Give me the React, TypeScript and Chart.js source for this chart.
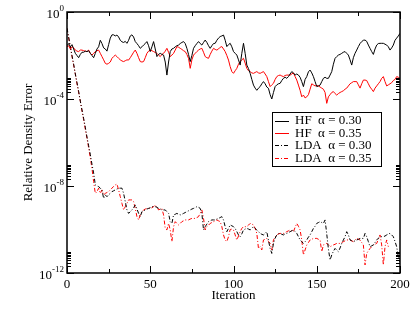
import React, { useEffect, useRef } from 'react';
import { Chart, registerables } from 'chart.js';

Chart.register(...registerables);

const FONT = "'Liberation Serif', 'Times New Roman', serif";

// log10 of relative density error, one value per iteration (0..200)
const hf030 = [
  -1.55,-1.45,-1.6,-1.5,-1.7,-1.9,-2.0,-2.1,-1.95,-1.85,
  -1.85,-1.8,-1.82,-1.78,-1.9,-2.0,-2.1,-1.9,-1.7,-1.6,
  -1.3,-1.45,-1.65,-1.7,-1.8,-1.5,-1.2,-1.05,-1.05,-1.1,
  -1.06,-1.15,-1.3,-1.37,-1.4,-1.35,-1.44,-1.3,-1.1,-1.05,
  -1.15,-1.36,-1.45,-1.55,-1.67,-1.6,-1.52,-1.45,-1.36,-1.55,
  -1.82,-1.6,-1.36,-1.7,-2.05,-1.95,-1.9,-1.95,-1.98,-2.3,
  -2.9,-2.3,-1.82,-1.7,-1.67,-1.6,-1.55,-1.52,-1.45,-1.4,
  -1.36,-1.45,-1.67,-1.95,-2.28,-2.0,-1.67,-1.55,-1.45,-1.36,
  -1.45,-1.52,-1.4,-1.29,-1.4,-1.55,-1.67,-1.55,-1.45,-1.44,
  -1.3,-1.2,-1.13,-1.1,-1.06,-1.3,-1.59,-1.5,-1.44,-1.6,
  -1.82,-1.9,-1.98,-2.2,-2.44,-1.9,-1.44,-1.9,-2.44,-2.6,
  -2.82,-3.1,-3.36,-3.5,-3.6,-3.5,-3.43,-3.3,-3.2,-3.3,
  -3.45,-3.51,-3.8,-4.0,-3.7,-3.43,-3.35,-3.3,-3.28,-3.15,
  -3.05,-3.0,-3.05,-2.97,-2.85,-2.74,-2.8,-2.9,-2.85,-2.9,
  -3.0,-3.2,-3.43,-3.1,-2.97,-2.75,-2.67,-2.8,-2.97,-3.2,
  -3.43,-3.4,-3.36,-3.2,-3.05,-3.0,-3.05,-3.05,-2.9,-2.74,
  -2.4,-2.13,-2.05,-1.98,-1.95,-1.9,-1.85,-1.82,-1.9,-1.98,
  -2.2,-2.44,-2.1,-1.9,-1.75,-1.59,-1.45,-1.36,-1.3,-1.29,
  -1.35,-1.52,-1.67,-1.82,-1.95,-1.7,-1.52,-1.45,-1.44,-1.44,
  -1.44,-1.48,-1.52,-1.6,-1.75,-1.65,-1.52,-1.3,-1.2,-1.1,
  -0.98,
];

const hf035 = [
  -1.6,-1.55,-1.7,-1.59,-1.65,-1.75,-1.8,-1.82,-1.75,-1.75,
  -1.78,-1.8,-1.82,-1.75,-1.9,-1.98,-1.9,-1.82,-1.78,-1.75,
  -1.9,-2.05,-2.2,-2.36,-2.4,-2.36,-2.3,-2.13,-2.05,-1.98,
  -2.05,-2.13,-2.2,-2.25,-2.28,-2.24,-2.2,-2.21,-2.1,-1.98,
  -1.85,-1.75,-1.9,-2.1,-2.28,-2.3,-2.28,-2.1,-1.9,-1.8,
  -1.75,-1.78,-1.82,-1.86,-1.9,-1.98,-2.05,-1.95,-1.9,-1.8,
  -1.67,-1.85,-2.05,-1.98,-1.9,-1.75,-1.59,-1.62,-1.67,-1.72,
  -1.78,-1.82,-1.95,-2.13,-2.59,-2.2,-1.98,-1.9,-1.82,-1.75,
  -1.7,-1.67,-1.85,-2.05,-2.1,-2.13,-1.95,-1.8,-1.67,-1.72,
  -1.75,-1.7,-1.62,-1.59,-1.7,-1.82,-2.0,-2.21,-2.51,-2.74,
  -2.82,-2.7,-2.59,-2.4,-2.28,-2.2,-2.13,-2.35,-2.59,-2.7,
  -2.74,-2.8,-2.82,-2.78,-2.74,-2.8,-2.82,-2.78,-2.74,-2.85,
  -2.97,-3.2,-3.43,-3.35,-3.28,-3.1,-2.97,-2.92,-2.9,-2.94,
  -2.97,-2.92,-2.9,-2.9,-2.9,-2.85,-2.8,-2.97,-3.13,-3.36,
  -3.6,-3.9,-3.82,-3.95,-3.9,-3.8,-3.55,-3.3,-3.35,-3.4,
  -3.38,-3.4,-3.45,-3.5,-3.55,-3.7,-4.2,-3.9,-3.8,-3.7,
  -3.66,-3.75,-3.82,-3.75,-3.7,-3.66,-3.62,-3.55,-3.5,-3.4,
  -3.3,-3.25,-3.2,-3.2,-3.2,-3.35,-3.5,-3.3,-3.13,-3.13,
  -3.15,-3.3,-3.45,-3.55,-3.66,-3.5,-3.4,-3.3,-3.2,-3.05,
  -2.97,-3.2,-3.4,-3.35,-3.3,-3.25,-3.15,-3.1,-2.97,-3.0,
  -3.05,
];

const lda030 = [
  -0.75,-1.15,-1.6,-2.0,-2.4,-2.85,-3.25,-3.65,-4.1,-4.5,
  -4.9,-5.3,-5.75,-6.15,-6.55,-7.0,-7.4,-7.95,-8.0,-8.03,
  -8.1,-8.18,-8.57,-8.41,-8.49,-8.4,-8.34,-8.26,-8.22,-8.18,
  -8.14,-8.1,-8.1,-8.1,-8.34,-8.72,-9.1,-9.26,-9.18,-9.1,
  -9.0,-8.87,-9.05,-9.26,-9.41,-9.18,-9.14,-9.1,-9.06,-9.03,
  -9.0,-8.95,-8.95,-8.95,-8.98,-9.03,-9.06,-9.1,-9.1,-9.1,
  -9.18,-9.26,-9.64,-9.72,-9.33,-9.3,-9.26,-9.3,-9.33,-9.3,
  -9.26,-9.22,-9.18,-9.14,-9.1,-9.06,-9.03,-9.0,-8.95,-8.98,
  -9.03,-9.26,-10.02,-9.87,-9.75,-9.64,-9.6,-9.56,-9.56,-9.56,
  -9.52,-9.49,-9.45,-9.41,-9.56,-9.87,-10.1,-9.95,-9.79,-9.83,
  -9.87,-9.95,-10.1,-10.25,-10.33,-10.2,-10.02,-9.98,-9.95,-9.98,
  -10.02,-9.95,-9.87,-9.95,-10.02,-10.1,-10.18,-10.22,-10.25,-10.18,
  -10.1,-10.5,-10.87,-11.1,-10.64,-10.4,-10.25,-10.2,-10.18,-10.22,
  -10.25,-10.2,-10.18,-10.14,-10.1,-10.06,-10.02,-10.1,-10.18,-10.33,
  -10.48,-10.56,-10.64,-10.56,-10.48,-10.35,-10.25,-10.1,-9.95,-9.85,
  -9.72,-9.68,-9.64,-9.68,-9.72,-9.56,-10.2,-10.9,-11.4,-11.17,
  -11.0,-10.87,-10.95,-11.02,-10.85,-10.64,-10.48,-10.33,-10.1,-10.25,
  -10.48,-10.52,-10.56,-10.52,-10.48,-10.45,-10.41,-10.41,-10.41,-10.18,
  -10.33,-10.56,-10.79,-10.75,-10.71,-10.6,-10.48,-10.4,-10.33,-10.33,
  -10.33,-10.3,-10.25,-10.2,-10.18,-10.25,-10.33,-10.55,-10.79,-11.25,
  -11.5,
];

const lda035 = [
  -0.75,-1.2,-1.6,-2.05,-2.45,-2.85,-3.3,-3.7,-4.1,-4.55,
  -4.95,-5.4,-5.8,-6.25,-6.7,-7.2,-7.8,-8.34,-8.26,-8.1,
  -8.34,-8.18,-8.41,-8.34,-8.3,-8.26,-8.18,-8.1,-8.02,-7.95,
  -7.91,-8.18,-8.49,-8.8,-9.1,-8.95,-8.8,-8.64,-8.64,-8.64,
  -8.72,-9.03,-9.41,-9.56,-9.33,-9.2,-9.1,-9.06,-9.03,-9.03,
  -9.03,-9.0,-8.95,-8.87,-8.98,-9.1,-9.06,-9.03,-9.33,-9.95,
  -10.02,-9.72,-10.02,-10.56,-9.87,-9.64,-9.72,-9.79,-9.72,-9.64,
  -9.6,-9.56,-9.56,-9.56,-9.52,-9.49,-9.49,-9.49,-9.45,-9.41,
  -9.25,-9.1,-9.49,-10.02,-9.87,-9.8,-9.72,-9.68,-9.64,-9.6,
  -9.56,-9.6,-9.64,-9.87,-10.25,-10.48,-10.56,-10.33,-10.0,-9.98,
  -10.02,-10.25,-10.48,-10.3,-10.1,-9.95,-9.87,-9.87,-9.87,-9.8,
  -9.72,-9.75,-9.79,-9.95,-10.18,-10.87,-10.79,-10.94,-10.48,-10.45,
  -10.41,-10.55,-10.64,-10.94,-10.48,-10.35,-10.25,-10.2,-10.18,-10.18,
  -10.18,-10.14,-10.1,-10.06,-10.02,-10.06,-10.1,-9.9,-9.72,-9.85,
  -10.02,-10.48,-11.17,-10.94,-10.71,-10.6,-10.48,-10.45,-10.41,-10.41,
  -10.41,-10.45,-10.48,-11.02,-10.71,-10.68,-10.64,-10.7,-10.79,-10.75,
  -10.71,-10.68,-10.64,-10.64,-10.64,-10.6,-10.56,-10.52,-10.48,-10.48,
  -10.48,-10.52,-10.56,-10.48,-10.41,-10.45,-10.48,-10.6,-10.71,-11.63,
  -11.1,-10.98,-10.87,-10.79,-10.71,-10.68,-10.64,-10.45,-10.25,-10.71,
  -11.63,-10.79,-10.48,-10.79,
];

const seriesLabels = ['HF  \u03b1 = 0.30', 'HF  \u03b1 = 0.35', 'LDA  \u03b1 = 0.30', 'LDA  \u03b1 = 0.35'];
const xMajorTicks = [0, 50, 100, 150, 200];
const xMinorTicks = [25, 75, 125, 175];
const yMajorExps = [0, -4, -8, -12];
const yMinorMultipliers = [2, 3, 4, 5, 6, 7, 8, 9];

const toPoints = (arr: number[]) => arr.map((e, i) => ({ x: i, y: Math.pow(10, e) }));

const DASHDOT = [4, 2, 1, 2];

const overlayPlugin = {
  id: 'overlay',
  afterDraw(chart: any) {
    const { ctx, chartArea: a, scales } = chart;
    const xs = scales.x;
    const ys = scales.y;
    ctx.save();
    ctx.strokeStyle = '#000';
    ctx.lineWidth = 1;
    ctx.setLineDash([]);
    const vline = (px: number, y0: number, y1: number) => {
      ctx.beginPath();
      ctx.moveTo(Math.round(px) + 0.5, y0);
      ctx.lineTo(Math.round(px) + 0.5, y1);
      ctx.stroke();
    };
    const hline = (py: number, x0: number, x1: number) => {
      ctx.beginPath();
      ctx.moveTo(x0, Math.round(py) + 0.5);
      ctx.lineTo(x1, Math.round(py) + 0.5);
      ctx.stroke();
    };
    // x ticks (inward, bottom and top)
    xMajorTicks.forEach((v) => {
      const px = xs.getPixelForValue(v);
      vline(px, a.bottom, a.bottom - 7);
      vline(px, a.top, a.top + 7);
    });
    xMinorTicks.forEach((v) => {
      const px = xs.getPixelForValue(v);
      vline(px, a.bottom, a.bottom - 4);
      vline(px, a.top, a.top + 4);
    });
    // y ticks (inward, left and right)
    yMajorExps.forEach((e) => {
      const py = ys.getPixelForValue(Math.pow(10, e));
      hline(py, a.left, a.left + 7);
      hline(py, a.right, a.right - 7);
      yMinorMultipliers.forEach((m) => {
        const v = m * Math.pow(10, e);
        if (v > 1) return;
        const pm = ys.getPixelForValue(v);
        hline(pm, a.left, a.left + 4);
        hline(pm, a.right, a.right - 4);
      });
    });
    // frame
    ctx.lineWidth = 1.5;
    ctx.strokeRect(a.left, a.top, a.right - a.left, a.bottom - a.top);

    // y tick labels with superscripts
    ctx.fillStyle = '#000';
    ctx.textBaseline = 'middle';
    yMajorExps.forEach((e) => {
      const py = ys.getPixelForValue(Math.pow(10, e));
      const sup = e === 0 ? '0' : '-' + String(-e);
      ctx.font = `9px ${FONT}`;
      const sw = ctx.measureText(sup).width;
      const rightX = a.left - 3;
      ctx.textAlign = 'left';
      ctx.fillText(sup, rightX - sw, py - 3);
      ctx.font = `13px ${FONT}`;
      ctx.textAlign = 'right';
      ctx.fillText('10', rightX - sw, py + 3);
    });

    // legend
    const lx = a.left + 205;
    const ly = a.top + 100;
    const lw = 109;
    const lh = 54;
    ctx.fillStyle = '#fff';
    ctx.fillRect(lx, ly, lw, lh);
    ctx.lineWidth = 1;
    ctx.strokeStyle = '#000';
    ctx.strokeRect(lx + 0.5, ly + 0.5, lw, lh);
    chart.data.datasets.forEach((ds: any, i: number) => {
      const ry = ly + 8.5 + i * 12.4;
      ctx.strokeStyle = ds.borderColor;
      ctx.lineWidth = 1;
      ctx.setLineDash(ds.borderDash || []);
      ctx.beginPath();
      ctx.moveTo(lx + 3, Math.round(ry) + 0.5);
      ctx.lineTo(lx + 17, Math.round(ry) + 0.5);
      ctx.stroke();
      ctx.setLineDash([]);
      ctx.fillStyle = '#000';
      ctx.font = `13px ${FONT}`;
      ctx.textAlign = 'left';
      ctx.textBaseline = 'middle';
      ctx.fillText(ds.label, lx + 23, ry + 0.5);
    });
    ctx.restore();
  },
};

export default function App() {
  const ref = useRef<HTMLCanvasElement>(null);
  useEffect(() => {
    const chart = new Chart(ref.current as HTMLCanvasElement, {
      type: 'line',
      data: {
        datasets: [
          { label: seriesLabels[0], data: toPoints(hf030), borderColor: '#000000', borderWidth: 1 },
          { label: seriesLabels[1], data: toPoints(hf035), borderColor: '#ff0000', borderWidth: 1 },
          { label: seriesLabels[2], data: toPoints(lda030), borderColor: '#000000', borderWidth: 1, borderDash: DASHDOT },
          { label: seriesLabels[3], data: toPoints(lda035), borderColor: '#ff0000', borderWidth: 1, borderDash: DASHDOT },
        ] as any,
      },
      options: {
        animation: false,
        responsive: false,
        parsing: false as any,
        elements: { point: { radius: 0 }, line: { tension: 0 } },
        layout: { padding: { left: 0, top: 12, right: 15, bottom: 0 } },
        plugins: { legend: { display: false }, tooltip: { enabled: false } },
        scales: {
          x: {
            type: 'linear',
            min: 0,
            max: 200,
            grid: { display: false, drawTicks: false },
            border: { display: false },
            ticks: {
              stepSize: 50,
              color: '#000',
              font: { family: FONT, size: 13 },
              padding: 4,
              maxRotation: 0,
            },
            title: {
              display: true,
              text: 'Iteration',
              color: '#000',
              font: { family: FONT, size: 13 },
              padding: { top: 0, bottom: 18 },
            },
            afterFit: (s: any) => { s.height = 48; },
          },
          y: {
            type: 'logarithmic',
            min: 1e-12,
            max: 1,
            grid: { display: false, drawTicks: false },
            border: { display: false },
            ticks: { display: false },
            title: {
              display: true,
              text: 'Relative Density Error',
              color: '#000',
              font: { family: FONT, size: 13 },
              padding: { top: 21, bottom: 0 },
            },
            afterFit: (s: any) => { s.width = 67; },
          },
        },
      } as any,
      plugins: [overlayPlugin],
    });
    return () => chart.destroy();
  }, []);
  return (
    <div style={{ position: 'absolute', left: 0, top: 0, width: 415, height: 321, background: '#fff' }}>
      <canvas ref={ref} width={415} height={321} style={{ display: 'block' }} />
    </div>
  );
}
